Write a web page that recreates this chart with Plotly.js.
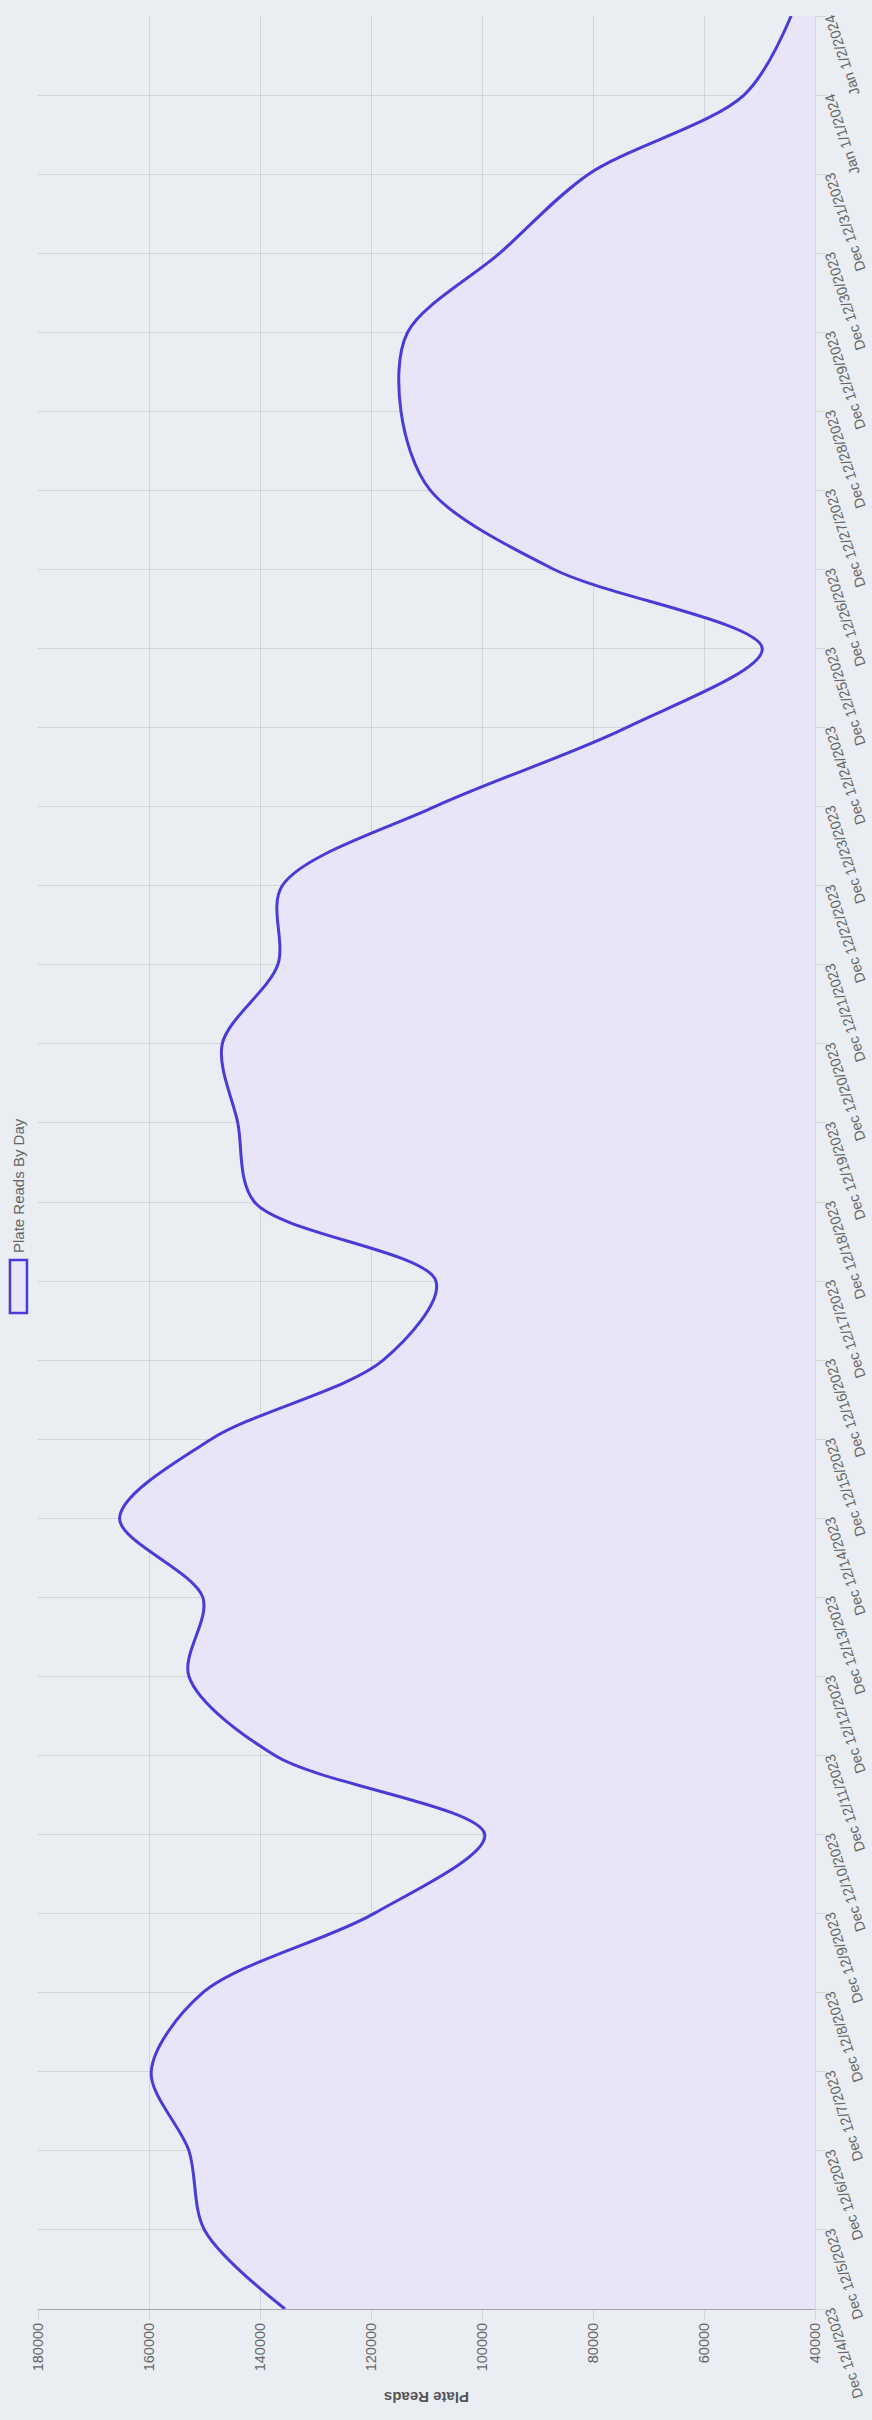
<!DOCTYPE html>
<html>
<head>
<meta charset="utf-8">
<script src="https://cdn.plot.ly/plotly-3.0.1.min.js"></script>
<style>
  html, body { margin: 0; padding: 0; width: 872px; height: 2420px; overflow: hidden; background: #eaeef3; }
  #wrap { position: absolute; left: 0; top: 0; width: 2420px; height: 872px;
          transform-origin: 0 0; transform: translate(0px, 2420px) rotate(-90deg); }
  #chart { width: 2420px; height: 872px; }
</style>
</head>
<body>
<div id="wrap"><div id="chart"></div></div>
<script>
// Data
const dates = [
  '2023-12-04','2023-12-05','2023-12-06','2023-12-07','2023-12-08','2023-12-09',
  '2023-12-10','2023-12-11','2023-12-12','2023-12-13','2023-12-14','2023-12-15',
  '2023-12-16','2023-12-17','2023-12-18','2023-12-19','2023-12-20','2023-12-21',
  '2023-12-22','2023-12-23','2023-12-24','2023-12-25','2023-12-26','2023-12-27',
  '2023-12-28','2023-12-29','2023-12-30','2023-12-31','2024-01-01','2024-01-02'
];
const tickLabels = [
  'Dec 12/4/2023','Dec 12/5/2023','Dec 12/6/2023','Dec 12/7/2023','Dec 12/8/2023','Dec 12/9/2023',
  'Dec 12/10/2023','Dec 12/11/2023','Dec 12/12/2023','Dec 12/13/2023','Dec 12/14/2023','Dec 12/15/2023',
  'Dec 12/16/2023','Dec 12/17/2023','Dec 12/18/2023','Dec 12/19/2023','Dec 12/20/2023','Dec 12/21/2023',
  'Dec 12/22/2023','Dec 12/23/2023','Dec 12/24/2023','Dec 12/25/2023','Dec 12/26/2023','Dec 12/27/2023',
  'Dec 12/28/2023','Dec 12/29/2023','Dec 12/30/2023','Dec 12/31/2023','Jan 1/1/2024','Jan 1/2/2024'
];
const plateReads = [
  135500, 150000, 152800, 159600, 150300, 119500,
  99500, 137300, 152800, 150300, 165300, 148800,
  117800, 108300, 141000, 144000, 146800, 136800,
  136000, 108500, 74000, 49500, 87000, 109300,
  114600, 113400, 96800, 80800, 52800, 44300
];
const seriesName = 'Plate Reads By Day';
const yTitle = 'Plate Reads';

const lineColor = '#4b3bd6';
const fillColor = '#e8e5f9';
const gridColor = 'rgba(0,0,0,0.1)';
const textColor = '#666666';
const fontFamily = '"Liberation Sans", Arial, Helvetica, sans-serif';

const trace = {
  type: 'scatter',
  mode: 'lines',
  x: dates,
  y: plateReads,
  name: seriesName,
  line: { color: lineColor, width: 3, shape: 'spline', smoothing: 0.9 },
  fill: 'tozeroy',
  fillcolor: fillColor,
  showlegend: false,
  hoverinfo: 'x+y'
};

const layout = {
  width: 2420,
  height: 872,
  margin: { l: 111, r: 16, t: 38, b: 57 },
  paper_bgcolor: '#eaeef3',
  plot_bgcolor: '#eaeef3',
  font: { family: fontFamily, color: textColor, size: 14.5 },
  showlegend: false,
  xaxis: {
    type: 'date',
    range: [dates[0], dates[dates.length - 1]],
    tickmode: 'array',
    tickvals: dates,
    ticktext: tickLabels,
    tickangle: -18,
    tickfont: { family: fontFamily, size: 14.5, color: textColor },
    ticklabelstandoff: -9,
    showgrid: true,
    gridcolor: gridColor,
    gridwidth: 1,
    ticks: 'outside',
    ticklen: 10,
    tickcolor: gridColor,
    showline: true,
    linecolor: gridColor,
    linewidth: 1,
    mirror: false,
    zeroline: false,
    fixedrange: true
  },
  yaxis: {
    range: [40000, 180000],
    tick0: 40000,
    dtick: 20000,
    tickformat: 'd',
    tickfont: { family: fontFamily, size: 14.5, color: textColor },
    showgrid: true,
    gridcolor: gridColor,
    gridwidth: 1,
    ticks: 'outside',
    ticklen: 10,
    tickcolor: gridColor,
    showline: true,
    linecolor: 'rgba(0,0,0,0.3)',
    linewidth: 1,
    zeroline: false,
    fixedrange: true,
    title: { text: '<b>' + yTitle + '</b>', font: { family: fontFamily, size: 15, color: '#555555' }, standoff: 16 }
  },
  shapes: [
    { type: 'rect', xref: 'paper', yref: 'paper', x0: 0.4344, x1: 0.4575, y0: 1.0142, y1: 1.0361,
      line: { color: lineColor, width: 2.5 }, fillcolor: fillColor, layer: 'above' }
  ],
  annotations: [
    { xref: 'paper', yref: 'paper', x: 0.4597, y: 1.0251, xanchor: 'left', yanchor: 'middle',
      text: seriesName, showarrow: false, font: { family: fontFamily, size: 15, color: textColor } }
  ]
};

Plotly.newPlot('chart', [trace], layout, { displayModeBar: false, staticPlot: true });
</script>
</body>
</html>
